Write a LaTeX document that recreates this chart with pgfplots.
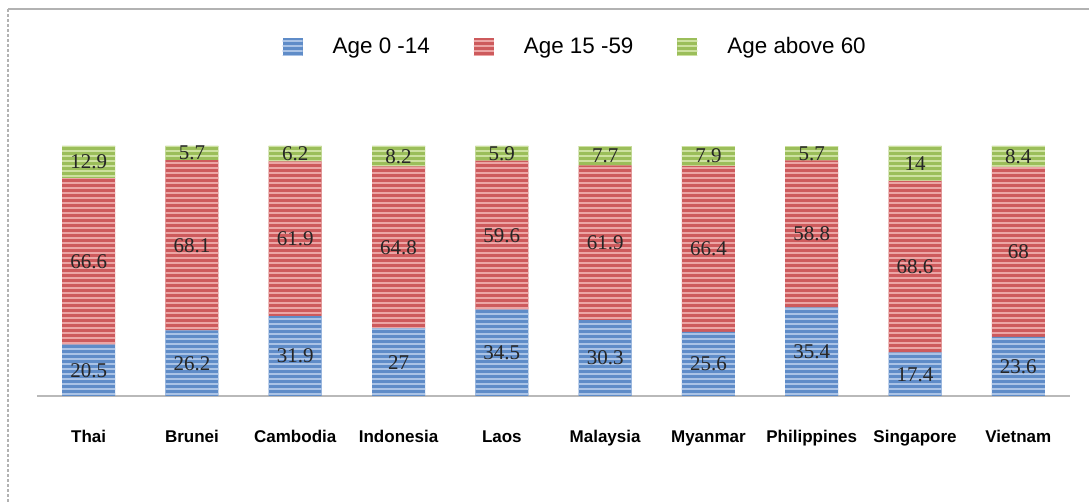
\documentclass[border=0pt]{standalone}
\usepackage{pgfplots}
\pgfplotsset{compat=1.18}
\usepackage{pgfplotstable}
\usetikzlibrary{patterns}
\usepackage{fontspec}
\setmainfont{Liberation Sans}
\newfontfamily\serif{Liberation Serif}

\definecolor{cblue}{RGB}{95,140,200}
\definecolor{cbluel}{RGB}{170,195,230}
\definecolor{cred}{RGB}{205,90,92}
\definecolor{credl}{RGB}{236,165,165}
\definecolor{cgreen}{RGB}{155,190,90}
\definecolor{cgreenl}{RGB}{205,225,160}

% wide tile so there are no vertical seams inside the bars
\pgfdeclarepatternformonly{hstripes}{\pgfpointorigin}{\pgfqpoint{600pt}{2.6pt}}{\pgfqpoint{600pt}{2.6pt}}{%
  \pgfpathrectangle{\pgfqpoint{-1pt}{0pt}}{\pgfqpoint{602pt}{1.1pt}}\pgfusepath{fill}}

% share of population by age group, per country
\pgfplotstableread{
x  a     b     c
0  20.5  66.6  12.9
1  26.2  68.1  5.7
2  31.9  61.9  6.2
3  27    64.8  8.2
4  34.5  59.6  5.9
5  30.3  61.9  7.7
6  25.6  66.4  7.9
7  35.4  58.8  5.7
8  17.4  68.6  14
9  23.6  68    8.4
}\data

\pgfplotsset{
  seg/.style n args={3}{
    fill=#1, draw=none,
    postaction={pattern=hstripes, pattern color=#2},
    point meta=\thisrow{#3},
    nodes near coords={\pgfmathprintnumber{\pgfplotspointmeta}},
    every node near coord/.style={anchor=center,
      font=\serif\fontsize{10.5}{12}\selectfont, text=black!85},
  },
}

\begin{document}
\begin{tikzpicture}
\begin{axis}[
  scale only axis,
  width=516.5pt, y=1.25pt,
  ymin=0, ymax=100,
  xmin=-0.5, xmax=9.5,
  clip=false,
  ybar stacked, bar width=26.5pt,
  axis x line=bottom, axis y line=none,
  x axis line style={-, draw=gray!55, line width=0.8pt},
  major tick length=0,
  xtick=data,
  xticklabels={Thai, Brunei, Cambodia, Indonesia, Laos, Malaysia, Myanmar, Philippines, Singapore, Vietnam},
  xticklabel style={font=\bfseries\fontsize{8.5}{10}\selectfont, yshift=-13.7pt},
  /pgf/number format/assume math mode=true,
  legend columns=3,
  legend style={at={(0.522,1.396)}, anchor=center, draw=none,
    font=\fontsize{11.2}{13}\selectfont,
    /tikz/every odd column/.append style={column sep=13pt},
    /tikz/every even column/.append style={column sep=20pt}},
  legend image code/.code={\fill[#1] (0pt,-4.5pt) rectangle (10pt,4.5pt);},
]
\addplot[seg={cblue}{cbluel}{a}] table[x=x, y=a] {\data};
\addplot[seg={cred}{credl}{b}] table[x=x, y=b] {\data};
\addplot[seg={cgreen}{cgreenl}{c}] table[x=x, y=c] {\data};
\legend{Age 0 -14, Age 15 -59, Age above 60}
\end{axis}
\pgfresetboundingbox
\useasboundingbox (-18.5pt,-54pt) rectangle (526pt,198pt);
\draw[gray!60, line width=1pt, dash pattern=on 1.5pt off 1pt] (-14.25pt,193.5pt) -- (-14.25pt,-60pt);
\draw[gray!60, line width=1pt] (-14.25pt,193.5pt) -- (540pt,193.5pt);
\end{tikzpicture}
\end{document}
